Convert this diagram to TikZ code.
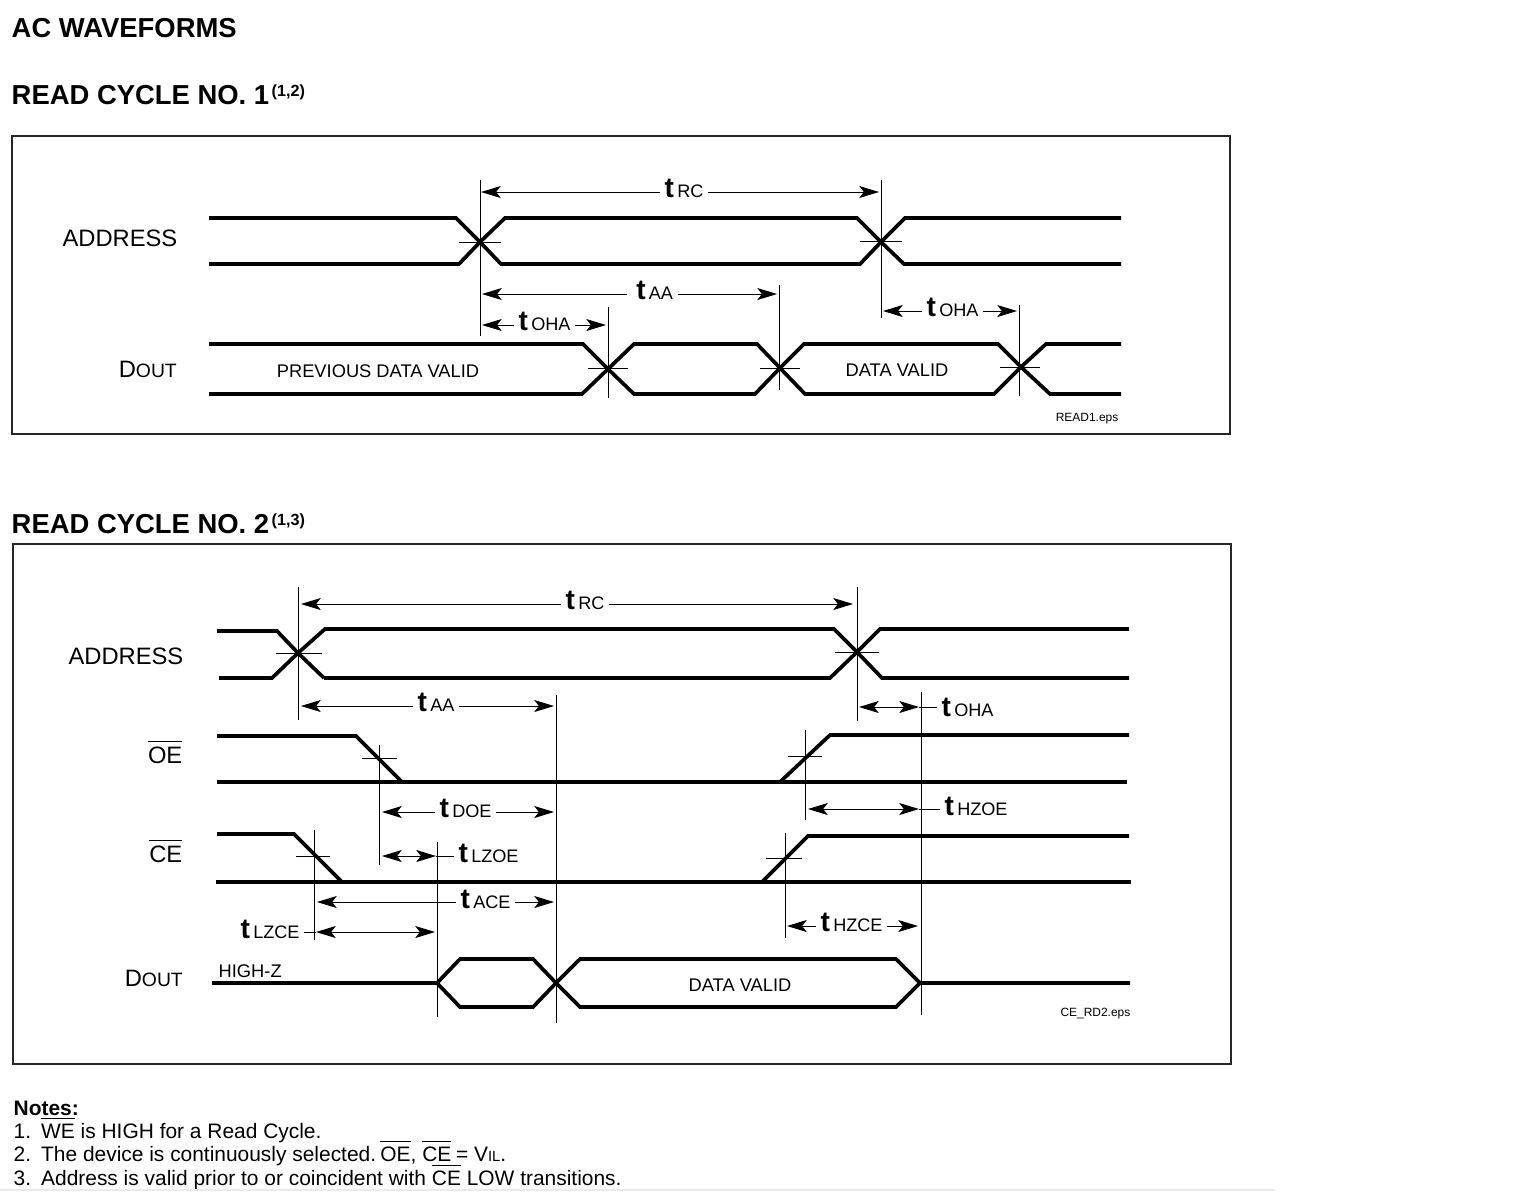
\documentclass[tikz,border=0pt]{standalone}
\usepackage{fontspec}
\setmainfont{Liberation Sans}
\usetikzlibrary{arrows.meta}
\newcommand{\fs}[1]{\fontsize{#1}{#1}\selectfont}
\newcommand{\tlab}[1]{{\fs{8}\textbf{t}}\hspace{0.9pt}{\fs{5.15}#1}}
\newcommand{\dout}{{\fs{6.75}D}{\fs{5.5}OUT}}
\newcommand{\ovl}[1]{$\overline{\mbox{#1}}$}
\begin{document}
\begin{tikzpicture}[x=0.01cm,y=-0.01cm,
    >={Stealth[length=5.6pt,width=3.4pt,inset=1.3pt]},
    onda/.style={line width=1.05pt,black,line join=miter},
    guida/.style={line width=0.26pt,black},
    linea/.style={line width=0.26pt,black},
    cornice/.style={line width=0.55pt,black!85},
    etic/.style={anchor=base west,inner ysep=0pt,inner xsep=1.14pt},
    testo/.style={anchor=base west,inner sep=0pt},
    titolo/.style={testo,font=\fs{7.8}\bfseries},
    nome/.style={anchor=base east,inner sep=0pt,font=\fs{6.75}},
    picc/.style={anchor=base,inner sep=0pt,font=\fs{5.2}},
    nota/.style={testo,font=\fs{5.95}}]
  \useasboundingbox (0,0) rectangle (1536,1199);

  % ---- titoli --------------------------------------------------------------
  \node[titolo] (tit0) at (11,37) {AC WAVEFORMS};
  \node[titolo] (tit1) at (11,104) {READ CYCLE NO. 1};
  \node[testo,font=\fs{4.6}\bfseries] (sup1) at (271,96) {(1,2)};
  \node[titolo] (tit2) at (11,533) {READ CYCLE NO. 2};
  \node[testo,font=\fs{4.6}\bfseries] (sup2) at (271,525) {(1,3)};

  % ---- cornici -------------------------------------------------------------
  \draw[cornice] (12,136) rectangle (1230,434);
  \draw[cornice] (13,544) rectangle (1231,1064);

  % ---- ciclo 1: onde -------------------------------------------------------
  \draw[onda] (209,218) -- (456,218) -- (480,242) -- (505,218) -- (857,218)
              -- (881,242) -- (905,218) -- (1121,218);
  \draw[onda] (209,264) -- (459,264) -- (480,242) -- (501,264) -- (860,264)
              -- (881,242) -- (904,264) -- (1121,264);
  \draw[onda] (209,344) -- (583,344) -- (608,369) -- (634,344) -- (757,344)
              -- (780,368) -- (804,344) -- (998,344) -- (1021,367) -- (1046,344) -- (1121,344);
  \draw[onda] (209,394) -- (582,394) -- (608,369) -- (634,394) -- (755,394)
              -- (780,368) -- (805,394) -- (994,394) -- (1021,367) -- (1050,394) -- (1121,394);

  % ---- ciclo 1: guide ------------------------------------------------------
  \draw[guida] (480,180) -- (480,336)  (459,242) -- (501,242);
  \draw[guida] (881,180) -- (881,318)  (860,241) -- (902,241);
  \draw[guida] (608,307) -- (608,398)  (588,368) -- (628,368);
  \draw[guida] (779,285) -- (779,390)  (760,368) -- (800,368);
  \draw[guida] (1019,305) -- (1019,396)  (1000,367) -- (1040,367);

  % ---- ciclo 1: tempi ------------------------------------------------------
  \node[etic] (rc1) at (660,197) {\tlab{RC}};
  \coordinate (rc1a) at (481,192);
  \coordinate (rc1b) at (879,192);
  \draw[linea,<-] (rc1a) -- (rc1.west |- rc1a);
  \draw[linea,->] (rc1.east |- rc1a) -- (rc1b);

  \node[etic] (aa1) at (627,299) {\hspace{1.3pt}\tlab{AA}\hspace{1.6pt}};
  \coordinate (aa1a) at (482,294);
  \coordinate (aa1b) at (777,294);
  \draw[linea,<-] (aa1a) -- (aa1.west |- aa1a);
  \draw[linea,->] (aa1.east |- aa1a) -- (aa1b);

  \node[etic] (oha1) at (514,330) {\tlab{OHA}};
  \coordinate (oha1a) at (482,325);
  \coordinate (oha1b) at (606,325);
  \draw[linea,<-] (oha1a) -- (oha1.west |- oha1a);
  \draw[linea,->] (oha1.east |- oha1a) -- (oha1b);

  \node[etic] (oha2) at (922,316) {\tlab{OHA}};
  \coordinate (oha2a) at (883,311);
  \coordinate (oha2b) at (1017,311);
  \draw[linea,<-] (oha2a) -- (oha2.west |- oha2a);
  \draw[linea,->] (oha2.east |- oha2a) -- (oha2b);

  % ---- ciclo 1: testi ------------------------------------------------------
  \node[nome] (addr1) at (178,246) {ADDRESS};
  \node[nome] (dout1) at (177.5,377) {\dout};
  \node[picc] (prev) at (378,377) {PREVIOUS DATA VALID};
  \node[picc] (dv1) at (897,376) {DATA VALID};
  \node[anchor=base east,inner sep=0pt,font=\fs{3.4}] (eps1) at (1119,421) {READ1.eps};

  % ---- ciclo 2: onde -------------------------------------------------------
  \draw[onda] (217,631) -- (277,631) -- (298,653) -- (324,678);
  \draw[onda] (219,678) -- (272,678) -- (298,653) -- (325,629) -- (834,629)
              -- (857,652) -- (880,629) -- (1129,629);
  \draw[onda] (324,678) -- (830,678) -- (857,652) -- (882,678) -- (1129,678);
  \draw[onda] (217,736) -- (356,736) -- (402,782) -- (780,782) -- (830,735) -- (1129,735);
  \draw[onda] (217,782) -- (1127,782);
  \draw[onda] (217,834) -- (294,834) -- (342,882) -- (762,882) -- (808,836) -- (1129,836);
  \draw[onda] (216,882) -- (1131,882);
  \draw[onda] (212,983) -- (437,983) -- (460,959) -- (533,959) -- (556,983) -- (580,959)
              -- (896,959) -- (920,983) -- (1130,983);
  \draw[onda] (437,983) -- (460,1007) -- (533,1007) -- (556,983) -- (580,1007)
              -- (896,1007) -- (920,983);

  % ---- ciclo 2: guide ------------------------------------------------------
  \draw[guida] (298,587) -- (298,720)  (276,653) -- (322,653);
  \draw[guida] (857,587) -- (857,721)  (835,652) -- (879,652);
  \draw[guida] (556,695) -- (556,1023);
  \draw[guida] (921,692) -- (921,1015);
  \draw[guida] (379,745) -- (379,865)  (362,758) -- (397,758);
  \draw[guida] (805,730) -- (805,820)  (788,756) -- (822,756);
  \draw[guida] (314,830) -- (314,940)  (296,856) -- (330,856);
  \draw[guida] (785,833) -- (785,938)  (766,858) -- (802,858);
  \draw[guida] (437,842) -- (437,1017);

  % ---- ciclo 2: tempi ------------------------------------------------------
  \node[etic] (rc2) at (561,609) {\tlab{RC}};
  \coordinate (rc2a) at (301,604);
  \coordinate (rc2b) at (853,604);
  \draw[linea,<-] (rc2a) -- (rc2.west |- rc2a);
  \draw[linea,->] (rc2.east |- rc2a) -- (rc2b);

  \node[etic] (aa2) at (413,711) {\tlab{AA}};
  \coordinate (aa2a) at (301,706);
  \coordinate (aa2b) at (554,706);
  \draw[linea,<-] (aa2a) -- (aa2.west |- aa2a);
  \draw[linea,->] (aa2.east |- aa2a) -- (aa2b);

  \node[etic] (oha3) at (937,716) {\tlab{OHA}};
  \coordinate (oha3a) at (859,707);
  \coordinate (oha3b) at (919,707);
  \draw[linea,<->] (oha3a) -- (oha3b);
  \draw[linea] (oha3b) -- (oha3.west |- oha3b);

  \node[etic] (doe) at (435,817) {\tlab{DOE}};
  \coordinate (doea) at (382,812);
  \coordinate (doeb) at (554,812);
  \draw[linea,<-] (doea) -- (doe.west |- doea);
  \draw[linea,->] (doe.east |- doea) -- (doeb);

  \node[etic] (hzoe) at (940,815) {\tlab{HZOE}};
  \coordinate (hzoea) at (808,809);
  \coordinate (hzoeb) at (919,809);
  \draw[linea,<->] (hzoea) -- (hzoeb);
  \draw[linea] (hzoeb) -- (hzoe.west |- hzoeb);

  \node[etic] (lzoe) at (454,862) {\tlab{LZOE}};
  \coordinate (lzoea) at (382,856);
  \coordinate (lzoeb) at (436,856);
  \draw[linea,<->] (lzoea) -- (lzoeb);
  \draw[linea] (lzoeb) -- (lzoe.west |- lzoeb);

  \node[etic] (ace) at (456,908) {\tlab{ACE}};
  \coordinate (acea) at (317,902);
  \coordinate (aceb) at (554,902);
  \draw[linea,<-] (acea) -- (ace.west |- acea);
  \draw[linea,->] (ace.east |- acea) -- (aceb);

  \node[etic] (lzce) at (236,938) {\tlab{LZCE}\hspace{0.6pt}};
  \coordinate (lzcea) at (316,932);
  \coordinate (lzceb) at (435,932);
  \draw[linea,<->] (lzcea) -- (lzceb);
  \draw[linea] (lzce.east |- lzcea) -- (lzcea);

  \node[etic] (hzce) at (816,931) {\tlab{HZCE}};
  \coordinate (hzcea) at (787,926);
  \coordinate (hzceb) at (918,926);
  \draw[linea,<-] (hzcea) -- (hzce.west |- hzcea);
  \draw[linea,->] (hzce.east |- hzcea) -- (hzceb);

  % ---- ciclo 2: testi ------------------------------------------------------
  \node[nome] (addr2) at (184,664) {ADDRESS};
  \node[nome] (oe) at (183,763) {\ovl{OE}};
  \node[nome] (ce) at (183,862) {\ovl{CE}};
  \node[nome] (dout2) at (183.5,986) {\dout};
  \node[testo,font=\fs{5.2}] (hiz) at (218,977) {HIGH-Z};
  \node[picc] (dv2) at (740,991) {DATA VALID};
  \node[anchor=base east,inner sep=0pt,font=\fs{3.4}] (eps2) at (1131,1016) {CE\_RD2.eps};

  % ---- note ----------------------------------------------------------------
  \node[testo,font=\fs{5.95}\bfseries] (note) at (13,1115) {Notes:};
  \node[nota] (n1a) at (13,1138) {1.};
  \node[nota] (n1b) at (40.5,1138) {\ovl{WE} is HIGH for a Read Cycle.};
  \node[nota] (n2a) at (13,1161) {2.};
  \node[nota] (n2b) at (40.5,1161) {The device is continuously selected.\hspace{-1pt} \ovl{OE}, \ovl{CE}\hspace{-0.3pt} = V{\fs{4.2}IL}.};
  \node[nota] (n3a) at (13,1185) {3.};
  \node[nota] (n3b) at (40.5,1185) {Address is valid prior to or coincident with \ovl{CE} LOW transitions.};
  \draw[line width=0.3pt,black!8] (0,1190) -- (1275,1190);
\end{tikzpicture}
\end{document}
